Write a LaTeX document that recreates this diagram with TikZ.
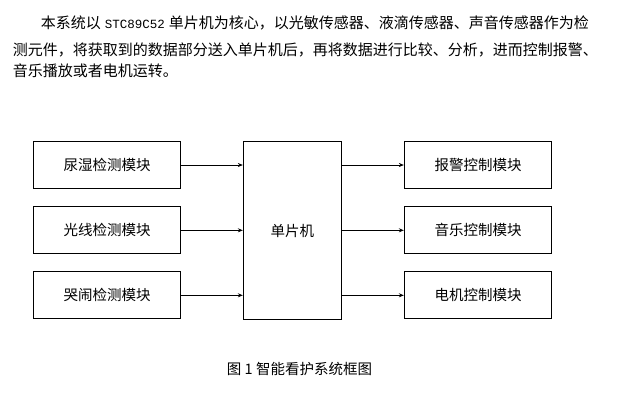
\documentclass[tikz,border=0pt]{standalone}
\usepackage{fontspec}
\setmainfont{Liberation Serif}
\newfontfamily\cjk{Noto Sans CJK SC}
\newfontfamily\monofnt{Liberation Mono}
\usetikzlibrary{arrows.meta}
\begin{document}
\begin{tikzpicture}[x=1pt,y=-1pt,
  box/.style={draw,line width=0.9pt,minimum width=147.4pt,minimum height=47pt,inner sep=0pt,font=\cjk\fontsize{14.5}{15}\selectfont},
  arr/.style={-{Stealth[length=5pt,width=4pt]},line width=0.9pt},
  para/.style={anchor=west,inner sep=0pt,font=\cjk\fontsize{15}{15}\selectfont}]
\useasboundingbox[fill=white] (0,0) rectangle (623,410);
% paragraph
\node[para] (p1) at (40.7,23) {本系统以\hspace{4pt}{\monofnt\fontsize{12.5}{15}\selectfont STC89C52}\hspace{4pt}单片机为核心，以光敏传感器、液滴传感器、声音传感器作为检};
\node[para] (p2) at (12.7,49.5) {测元件，将获取到的数据部分送入单片机后，再将数据进行比较、分析，进而控制报警、};
\node[para] (p3) at (12.7,70.5) {音乐播放或者电机运转。};
% boxes
\node[box] (in1) at (107,165) {尿湿检测模块};
\node[box] (in2) at (107,230.3) {光线检测模块};
\node[box] (in3) at (107,295.3) {哭闹检测模块};
\node[box,minimum width=98pt,minimum height=177.6pt] (mcu) at (292.3,230.5) {单片机};
\node[box] (out1) at (478,165) {报警控制模块};
\node[box] (out2) at (478,230.3) {音乐控制模块};
\node[box] (out3) at (478,295.3) {电机控制模块};
% arrows
\draw[arr] (in1.east) -- (in1.east -| mcu.west);
\draw[arr] (in2.east) -- (in2.east -| mcu.west);
\draw[arr] (in3.east) -- (in3.east -| mcu.west);
\draw[arr] (mcu.east |- out1.west) -- (out1.west);
\draw[arr] (mcu.east |- out2.west) -- (out2.west);
\draw[arr] (mcu.east |- out3.west) -- (out3.west);
% caption
\node[font=\cjk\fontsize{14.5}{15}\selectfont,inner sep=0pt] (cap) at (299.5,369.3) {图 1 智能看护系统框图};
\end{tikzpicture}
\end{document}
